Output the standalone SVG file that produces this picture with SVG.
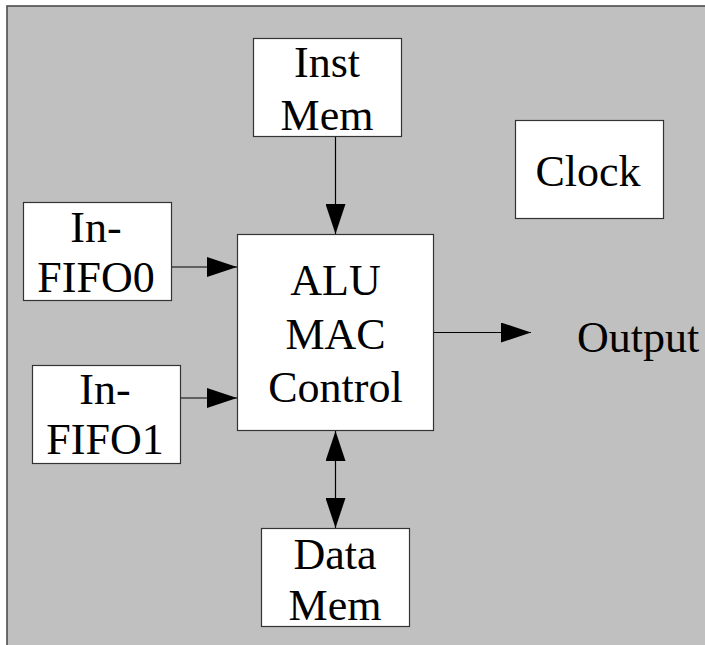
<svg xmlns="http://www.w3.org/2000/svg" width="705" height="645" viewBox="0 0 705 645">
  <style>
    .box { fill: #ffffff; stroke: #333333; stroke-width: 1.2; }
    .lbl { font-family: 'Liberation Serif', 'Times New Roman', serif; font-size: 44px; fill: #000000; text-anchor: middle; }
    .wire { stroke: #000000; stroke-width: 1.2; fill: none; }
  </style>
  <defs>
    <marker id="arrow" markerUnits="userSpaceOnUse" markerWidth="30" markerHeight="20" refX="30" refY="10" orient="auto-start-reverse" viewBox="0 0 30 20">
      <path d="M0,0 L30,10 L0,20 Z" fill="#000000"/>
    </marker>
  </defs>

  <!-- panel background -->
  <rect x="7" y="6" width="720" height="660" fill="#c0c0c0" stroke="#4d4d4d" stroke-width="1.6"/>

  <g id="inst-mem">
    <rect class="box" x="253.5" y="38.5" width="148" height="98"/>
    <text class="lbl" x="327" y="77">Inst</text>
    <text class="lbl" x="327" y="129.5">Mem</text>
  </g>

  <g id="clock">
    <rect class="box" x="515.5" y="120.5" width="148" height="98"/>
    <text class="lbl" x="588" y="186">Clock</text>
  </g>

  <g id="in-fifo0">
    <rect class="box" x="23.5" y="202.5" width="148" height="98"/>
    <text class="lbl" x="96" y="241.5">In-</text>
    <text class="lbl" x="96" y="292">FIFO0</text>
  </g>

  <g id="in-fifo1">
    <rect class="box" x="32.5" y="365.5" width="148" height="98"/>
    <text class="lbl" x="105" y="403.5">In-</text>
    <text class="lbl" x="105" y="454">FIFO1</text>
  </g>

  <g id="alu">
    <rect class="box" x="237.5" y="234.5" width="196" height="196"/>
    <text class="lbl" x="335.5" y="295">ALU</text>
    <text class="lbl" x="335.5" y="349">MAC</text>
    <text class="lbl" x="335.5" y="401.5">Control</text>
  </g>

  <g id="data-mem">
    <rect class="box" x="261.5" y="528.5" width="148" height="98"/>
    <text class="lbl" x="335" y="568.5">Data</text>
    <text class="lbl" x="335" y="619.5">Mem</text>
  </g>

  <g id="output">
    <text class="lbl" x="577" y="352" style="text-anchor:start">Output</text>
  </g>

  <g id="connectors">
    <line class="wire" x1="335.5" y1="137" x2="335.5" y2="234" marker-end="url(#arrow)"/>
    <line class="wire" x1="172" y1="267" x2="237" y2="267" marker-end="url(#arrow)"/>
    <line class="wire" x1="181" y1="398" x2="237" y2="398" marker-end="url(#arrow)"/>
    <line class="wire" x1="434" y1="332.5" x2="531" y2="332.5" marker-end="url(#arrow)"/>
    <line class="wire" x1="335.5" y1="431" x2="335.5" y2="528" marker-start="url(#arrow)" marker-end="url(#arrow)"/>
  </g>
</svg>
